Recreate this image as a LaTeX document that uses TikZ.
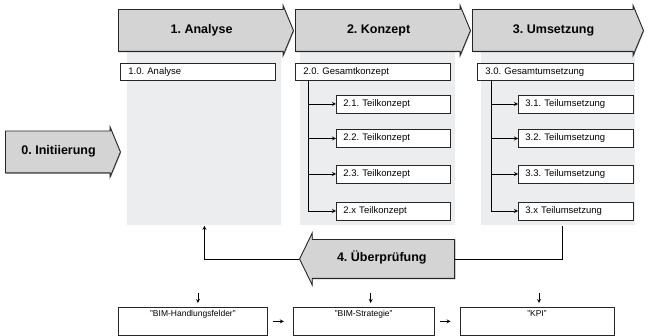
\documentclass[tikz,border=0pt]{standalone}
\usepackage{fontspec}
\setmainfont{Liberation Sans}
\usepackage{xcolor}
\usetikzlibrary{shapes.arrows,positioning,shadows}
\definecolor{panelgray}{RGB}{235,237,239}
\definecolor{phasegray}{RGB}{212,212,212}
\frenchspacing

\tikzset{
  phase/.style={single arrow, draw=black!85, fill=phasegray, line width=0.9pt,
    font=\bfseries\fontsize{12.5}{14}\selectfont, inner xsep=0pt, inner ysep=14.5pt,
    text height=9pt, text depth=3pt, minimum width=1pt,
    drop shadow={shadow xshift=0.7pt, shadow yshift=-0.9pt, fill=black!55},
    single arrow tip angle=135, single arrow head extend=4pt, anchor=tail},
  panel/.style={fill=panelgray, minimum width=154pt, minimum height=175pt,
    inner sep=0pt, anchor=north west},
  topbox/.style={draw=black!85, fill=white, line width=0.8pt, anchor=north west,
    font=\fontsize{9.5}{10}\selectfont, text width=139pt, align=left,
    inner xsep=8pt, inner ysep=0pt, minimum height=17pt},
  subbox/.style={topbox, anchor=west, text width=100pt, inner xsep=7pt, minimum height=18pt},
  resbox/.style={draw=black!85, fill=white, line width=0.8pt, anchor=north west,
    font=\fontsize{8.5}{9}\selectfont, text height=6pt, text depth=16pt,
    inner ysep=3pt},
}

\begin{document}
\begin{tikzpicture}[x=1pt,y=-1pt,>=stealth,line width=0.8pt]
  \useasboundingbox (0,0) rectangle (650,336);
  % panels
  \node[panel] (pan1) at (127,50) {};
  \node[panel, minimum width=155pt] (pan2) at (300,50) {};
  \node[panel] (pan3) at (481,50) {};
  % phases
  \node[phase, minimum height=115pt] (init) at (5,152) {0. Initiierung};
  \node[phase, minimum height=175pt] (ana) at (118,30.5) {1. Analyse};
  \node[phase, minimum height=175pt] (kon) at (295,30.5) {2. Konzept};
  \node[phase, minimum height=171pt] (ums) at (472,30.5) {3. Umsetzung};
  \node[phase, shape border rotate=180, minimum height=155pt, inner ysep=13pt,
    single arrow tip angle=128, single arrow head extend=6.5pt] (check) at (455,259) {4. Überprüfung};
  % boxes inside the phases
  \node[topbox] (a0) at (120,63) {1.0. Analyse};
  \node[topbox] (k0) at (295,63) {2.0. Gesamtkonzept};
  \node[topbox, text width=140pt] (u0) at (477,63) {3.0. Gesamtumsetzung};
  \foreach \i/\lbl/\yy in {1/2.1./104,2/2.2./138.5,3/2.3./174,x/2.x/211} {
    \node[subbox] (k\i) at (336,\yy) {\lbl{} Teilkonzept};
    \draw[->] ([xshift=13pt]k0.south west) |- (k\i.west);
  }
  \foreach \i/\lbl/\yy in {1/3.1./104,2/3.2./138.5,3/3.3./174,x/3.x/211} {
    \node[subbox, text width=101pt] (u\i) at (518,\yy) {\lbl{} Teilumsetzung};
    \draw[->] ([xshift=14pt]u0.south west) |- (u\i.west);
  }
  % feedback
  \draw[->] (check.tip) -| (pan1.south);
  \draw (check.tail) -| ([xshift=4pt]pan3.south);
  % results
  \node[resbox, minimum width=149pt] (hf) at (118,307) {"BIM-Handlungsfelder"};
  \node[resbox, minimum width=141pt, right=25pt of hf] (st) {"BIM-Strategie"};
  \node[resbox, minimum width=154pt, right=25pt of st] (kpi) {"KPI"};
  \draw[->] ([xshift=5pt]hf.east) -- ([xshift=-9pt]st.west);
  \draw[->] ([xshift=5pt]st.east) -- ([xshift=-9pt]kpi.west);
  \foreach \n/\dx in {hf/5,st/7,kpi/2}
    \draw[->] ([xshift=\dx pt,yshift=14pt]\n.north) -- ([xshift=\dx pt,yshift=4pt]\n.north);
\end{tikzpicture}
\end{document}
